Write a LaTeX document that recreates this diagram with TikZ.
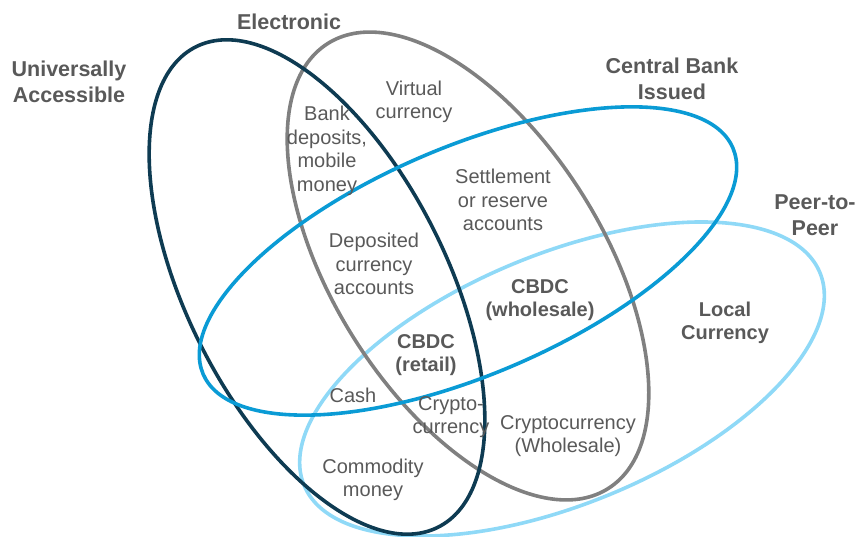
\documentclass[tikz,border=0pt]{standalone}
\usepackage{fontspec}
\setmainfont{Liberation Sans}
\usepackage{tikz}
\usetikzlibrary{positioning}
\definecolor{navyring}{HTML}{0E3B52}
\definecolor{grayring}{HTML}{808080}
\definecolor{bluering}{HTML}{0A9BD5}
\definecolor{lightring}{HTML}{8FD9F7}
\definecolor{labelgray}{HTML}{595959}
\tikzset{
ring/.style={line width=3.6pt},
settext/.style={text=labelgray, align=center, inner sep=0pt, font=\fontsize{20}{23.5}\selectfont},
settitle/.style={text=labelgray, align=center, inner sep=0pt, font=\fontsize{21.5}{26}\selectfont\bfseries},
boldtext/.style={settext, font=\fontsize{20}{23.5}\selectfont\bfseries}
}

\begin{document}
\begin{tikzpicture}[x=1pt,y=-1pt]
\useasboundingbox (0,0) rectangle (860,537);

% the four sets
\draw[ring, lightring, rotate around={22.4:(562,379)}] (562,379) ellipse [x radius=279pt, y radius=125pt];
\draw[ring, grayring, rotate around={-57.8:(468,266)}] (468,266) ellipse [x radius=263pt, y radius=135pt];
\draw[ring, navyring, rotate around={-63.2:(317,287)}] (317,287) ellipse [x radius=269pt, y radius=130pt];
\draw[ring, bluering, rotate around={23.1:(468,261)}] (468,261) ellipse [x radius=288pt, y radius=114pt];

% set titles
\node[settitle] (electronic) at (289,22) {Electronic};
\node[settitle] (universal) at (69,82) {Universally\\Accessible};
\node[settitle] (centralbank) at (672,79) {Central Bank\\Issued};
\node[settitle] (peer) at (815,215) {Peer-to-\\Peer};

% regions
\node[settext] (virtual) at (414,102) {Virtual\\currency};
\node[settext] (bankdep) at (327,151) {Bank\\deposits,\\mobile\\money};
\node[settext] (settle) at (503,200) {Settlement\\or reserve\\accounts};
\node[settext] (deposited) at (374,264) {Deposited\\currency\\accounts};
\node[boldtext] (cbdcwhole) at (540,300) {CBDC\\(wholesale)};
\node[boldtext] (localcur) at (725,323) {Local\\Currency};
\node[boldtext] (cbdcretail) at (426,355) {CBDC\\(retail)};
\node[settext] (cash) at (353,395) {Cash};
\node[settext] (crypto) at (451,417) {Crypto-\\currency};
\node[settext] (cryptowhole) at (568,436) {Cryptocurrency\\(Wholesale)};
\node[settext] (commodity) at (373,480) {Commodity\\money};
\end{tikzpicture}
\end{document}
